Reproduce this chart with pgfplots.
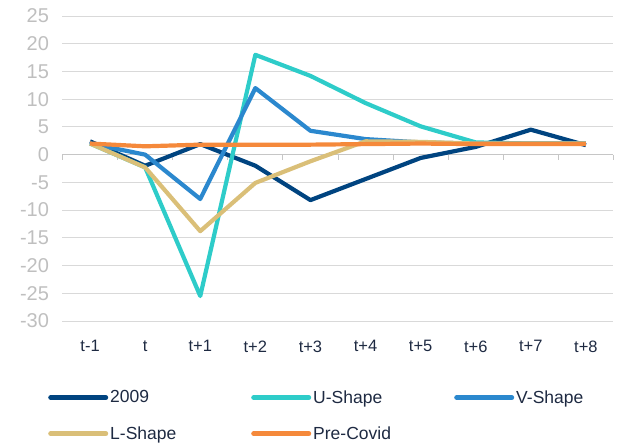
\documentclass[border=0pt]{standalone}
\usepackage{fontspec}
\setmainfont{Liberation Sans}
\usepackage{pgfplots}
\pgfplotsset{compat=1.18}
\definecolor{cA}{RGB}{0,68,128}
\definecolor{cU}{RGB}{46,204,201}
\definecolor{cV}{RGB}{43,136,206}
\definecolor{cL}{RGB}{218,191,120}
\definecolor{cP}{RGB}{245,137,59}
\definecolor{ylab}{RGB}{191,191,191}
\definecolor{xlab}{RGB}{30,42,66}
\definecolor{gridc}{RGB}{217,217,217}
\begin{document}
\begin{tikzpicture}[x=1pt,y=1pt]
\path[use as bounding box] (0,0) rectangle (625,447);
\begin{axis}[
  at={(62.5pt,126pt)}, anchor=south west,
  width=551pt, height=305pt, scale only axis,
  xmin=-0.5, xmax=9.5, ymin=-30, ymax=25,
  xtick={0,...,9},
  xticklabels={t-1,t,t+1,t+2,t+3,t+4,t+5,t+6,t+7,t+8},
  ytick={-30,-25,...,25},
  ymajorgrids, grid style={gridc, line width=0.9pt},
  axis line style={draw=none},
  major tick length=0pt,
  /pgf/number format/assume math mode=true,
  yticklabel style={font=\fontsize{20}{24}\selectfont, text=ylab, xshift=-10pt},
  xticklabel style={font=\fontsize{16.5}{20}\selectfont, text=xlab, yshift=-16pt},
  legend columns=3,
  legend style={draw=none, fill=none, at={(-0.0317,-0.214)}, anchor=north west,
    font=\fontsize{17.5}{21}\selectfont, text=xlab,
    /tikz/every even column/.append style={column sep=0pt},
    row sep=18pt,
    nodes={text width=139pt, align=left, inner sep=2pt}},
  legend image code/.code={\draw[#1, line width=5pt, line cap=round] (0pt,0pt) -- (55pt,0pt);},
  clip=false,
]
\draw[gray!45, line width=0.9pt] (axis cs:-0.5,0) -- (axis cs:9.5,0);
\pgfplotsinvokeforeach{-0.5,0.5,1.5,2.5,3.5,4.5,5.5,6.5,7.5,8.5,9.5}{
  \draw[gray!45, line width=0.9pt] (axis cs:#1,0) -- ([yshift=-5pt]axis cs:#1,0);
}
\addplot[cA, line width=4.2pt, line join=round] coordinates {
(0,2.4) (1,-2.0) (2,1.9) (3,-2.0) (4,-8.2) (5,-4.4) (6,-0.6) (7,1.4) (8,4.5) (9,1.7)};
\addlegendentry{2009}
\addplot[cU, line width=4.2pt, line join=round] coordinates {
(0,2.0) (1,-2.3) (2,-25.5) (3,18.0) (4,14.2) (5,9.3) (6,5.1) (7,2.2) (8,2.0) (9,2.0)};
\addlegendentry{U-Shape}
\addplot[cV, line width=4.2pt, line join=round] coordinates {
(0,2.0) (1,0.0) (2,-8.0) (3,12.0) (4,4.3) (5,2.8) (6,2.2) (7,2.0) (8,2.0) (9,2.0)};
\addlegendentry{V-Shape}
\addplot[cL, line width=4.2pt, line join=round] coordinates {
(0,2.0) (1,-2.3) (2,-13.8) (3,-5.1) (4,-1.2) (5,2.4) (6,2.3) (7,2.0) (8,2.0) (9,2.0)};
\addlegendentry{L-Shape}
\addplot[cP, line width=4.2pt, line join=round] coordinates {
(0,2.0) (1,1.5) (2,1.8) (3,1.8) (4,1.8) (5,1.9) (6,2.0) (7,1.9) (8,1.9) (9,1.9)};
\addlegendentry{Pre-Covid}
\end{axis}
\end{tikzpicture}
\end{document}
